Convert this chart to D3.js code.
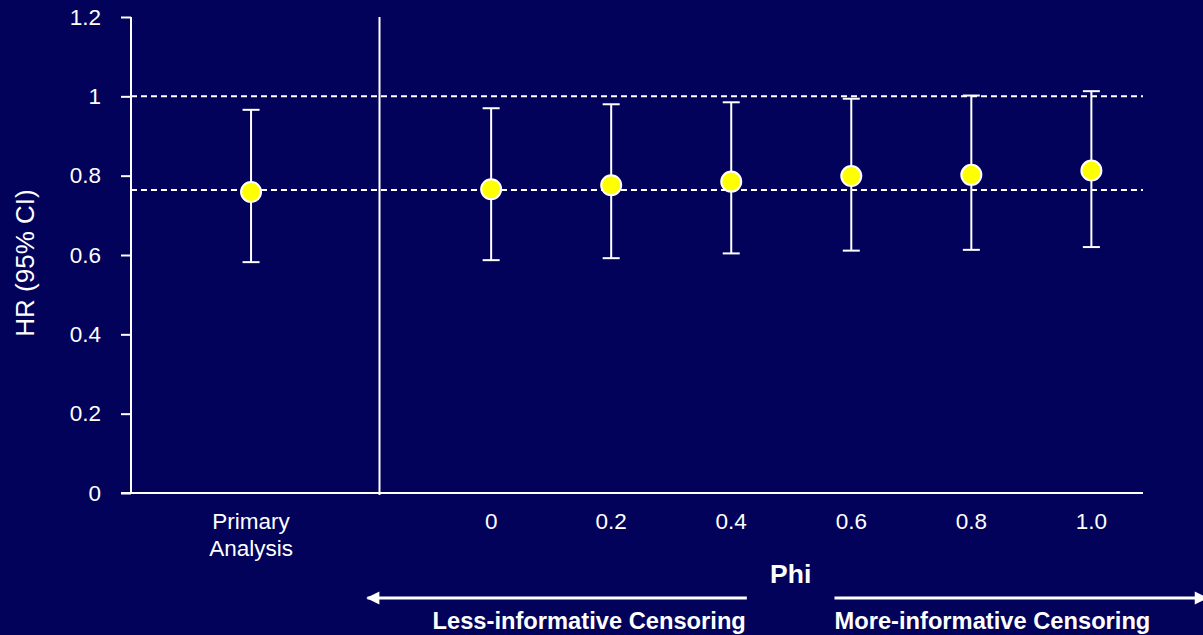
<!DOCTYPE html>
<html>
<head>
<meta charset="utf-8">
<script src="https://cdn.jsdelivr.net/npm/d3@7"></script>
<style>
  html, body { margin: 0; padding: 0; background: #02025a; }
  svg { display: block; font-family: "Liberation Sans", Arial, sans-serif; }
</style>
</head>
<body>
<svg id="chart"></svg>
<script>
// data
const groups = ["Primary Analysis", "0", "0.2", "0.4", "0.6", "0.8", "1.0"];
const slots = [-2, 0, 1, 2, 3, 4, 5];            // horizontal slot of each group
const hr = [0.759, 0.766, 0.776, 0.785, 0.799, 0.802, 0.813];
const lower = [0.582, 0.587, 0.592, 0.604, 0.611, 0.613, 0.620];
const upper = [0.966, 0.970, 0.980, 0.985, 0.994, 1.002, 1.013];
const refLines = [1.0, 0.764];
const yTicks = [0, 0.2, 0.4, 0.6, 0.8, 1, 1.2];
const dividerSlot = -0.93;

document.addEventListener('DOMContentLoaded', function() {
  const width = 1203;
  const height = 635;

  const svg = d3.select("#chart")
    .attr("width", width)
    .attr("height", height);

  svg.append("rect")
    .attr("width", width)
    .attr("height", height)
    .attr("fill", "#02025a");

  const x = d3.scaleLinear().domain([-3, 5.43]).range([131, 1143]);
  const y = d3.scaleLinear().domain([0, 1.2]).range([493, 17]);

  const data = groups.map((g, i) => ({ name: g, slot: slots[i], hr: hr[i], lo: lower[i], hi: upper[i] }));

  // y axis
  const yAxis = svg.append("g")
    .attr("transform", `translate(${x(-3)},0)`)
    .call(d3.axisLeft(y).tickValues(yTicks).tickSize(10).tickPadding(20).tickFormat(d3.format("")));
  yAxis.select(".domain").attr("stroke", "white").attr("stroke-width", 2).attr("d", `M0,${y(1.2)}V${y(0)}`);
  yAxis.selectAll(".tick line").attr("stroke", "white").attr("stroke-width", 2);
  yAxis.selectAll(".tick text")
    .attr("fill", "white")
    .attr("font-size", 22.5)
    .attr("font-family", "Liberation Sans, Arial, sans-serif");

  // x axis baseline
  svg.append("line")
    .attr("x1", x(-3) - 10).attr("x2", x(5.43))
    .attr("y1", y(0)).attr("y2", y(0))
    .attr("stroke", "white").attr("stroke-width", 2);

  // divider between primary analysis and sensitivity analyses
  svg.append("line")
    .attr("x1", x(dividerSlot)).attr("x2", x(dividerSlot))
    .attr("y1", y(1.2)).attr("y2", y(0) + 2)
    .attr("stroke", "white").attr("stroke-width", 2);

  // dashed reference lines
  svg.selectAll(".ref")
    .data(refLines)
    .enter().append("line")
    .attr("class", "ref")
    .attr("x1", x(-3)).attr("x2", x(5.43))
    .attr("y1", d => y(d)).attr("y2", d => y(d))
    .attr("stroke", "white")
    .attr("stroke-width", 2)
    .attr("stroke-dasharray", "6,4");

  // error bars
  const bars = svg.selectAll(".bar")
    .data(data)
    .enter().append("g")
    .attr("class", "bar");

  bars.append("line")
    .attr("x1", d => x(d.slot)).attr("x2", d => x(d.slot))
    .attr("y1", d => y(d.hi)).attr("y2", d => y(d.lo))
    .attr("stroke", "white").attr("stroke-width", 2);

  bars.selectAll(".cap")
    .data(d => [[d.slot, d.hi], [d.slot, d.lo]])
    .enter().append("line")
    .attr("class", "cap")
    .attr("x1", d => x(d[0]) - 8.5).attr("x2", d => x(d[0]) + 8.5)
    .attr("y1", d => y(d[1])).attr("y2", d => y(d[1]))
    .attr("stroke", "white").attr("stroke-width", 2);

  bars.append("circle")
    .attr("cx", d => x(d.slot))
    .attr("cy", d => y(d.hr))
    .attr("r", 10)
    .attr("fill", "#ffff00")
    .attr("stroke", "white")
    .attr("stroke-width", 2);

  // x labels
  const labels = svg.selectAll(".xlab")
    .data(data)
    .enter().append("text")
    .attr("class", "xlab")
    .attr("x", d => x(d.slot))
    .attr("y", 529)
    .attr("text-anchor", "middle")
    .attr("fill", "white")
    .attr("font-size", 22.5);

  labels.selectAll("tspan")
    .data(d => d.name.split(" "))
    .enter().append("tspan")
    .attr("x", function() { return this.parentNode.getAttribute("x"); })
    .attr("dy", (d, i) => i === 0 ? 0 : 27)
    .text(d => d);

  // y title
  svg.append("text")
    .attr("transform", `translate(34,263) rotate(-90)`)
    .attr("text-anchor", "middle")
    .attr("fill", "white")
    .attr("font-size", 26)
    .text("HR (95% CI)");

  // Phi and direction arrows
  const defs = svg.append("defs");
  defs.append("marker")
    .attr("id", "head")
    .attr("viewBox", "0 0 10 10")
    .attr("refX", 9).attr("refY", 5)
    .attr("markerWidth", 5).attr("markerHeight", 4.4)
    .attr("markerUnits", "strokeWidth")
    .attr("orient", "auto")
    .append("path")
    .attr("d", "M0,0L10,5L0,10Z")
    .attr("fill", "white");

  const arrows = [[2.13, -1.03], [2.86, 5.96]];
  svg.selectAll(".arrow")
    .data(arrows)
    .enter().append("line")
    .attr("class", "arrow")
    .attr("x1", d => x(d[0])).attr("x2", d => x(d[1]))
    .attr("y1", 598).attr("y2", 598)
    .attr("stroke", "white").attr("stroke-width", 3)
    .attr("marker-end", "url(#head)");

  svg.append("text")
    .attr("x", x((2.13 + 2.86) / 2))
    .attr("y", 583)
    .attr("text-anchor", "middle")
    .attr("fill", "white")
    .attr("font-weight", "bold")
    .attr("font-size", 26.5)
    .text("Phi");

  svg.append("text")
    .attr("x", x(2.13) - 1)
    .attr("y", 629)
    .attr("text-anchor", "end")
    .attr("fill", "white")
    .attr("font-weight", "bold")
    .attr("font-size", 23.7)
    .text("Less-informative Censoring");

  svg.append("text")
    .attr("x", x(2.86))
    .attr("y", 629)
    .attr("fill", "white")
    .attr("font-weight", "bold")
    .attr("font-size", 23.7)
    .text("More-informative Censoring");
});
</script>
</body>
</html>
